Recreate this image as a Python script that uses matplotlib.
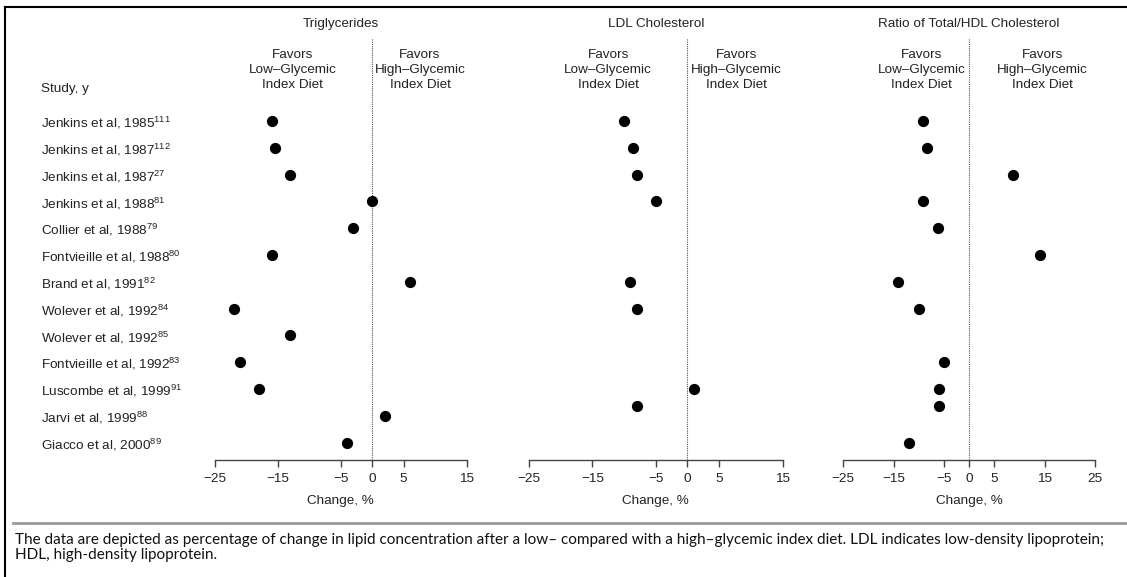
import matplotlib
matplotlib.use('Agg')
import matplotlib.pyplot as plt
import matplotlib.transforms as mtransforms
import numpy as np

# DADOS:
studies = ['Jenkins et al, 1985', 'Jenkins et al, 1987', 'Jenkins et al, 1987',
           'Jenkins et al, 1988', 'Collier et al, 1988', 'Fontvieille et al, 1988',
           'Brand et al, 1991', 'Wolever et al, 1992', 'Wolever et al, 1992',
           'Fontvieille et al, 1992', 'Luscombe et al, 1999', 'Jarvi et al, 1999',
           'Giacco et al, 2000']
refs = ['111', '112', '27', '81', '79', '80', '82', '84', '85', '83', '91', '88', '89']

nan = np.nan
tg_change = [-16, -15.5, -13, 0, -3, -16, 6, -22, -13, -21, -18, 2, -4]
ldl_change = [-10, -8.6, -8, -5, nan, nan, -9, -8, nan, nan, 1, -8, nan]
ratio_change = [-9.2, -8.3, 8.8, -9.2, -6.2, 14, -14.2, -10, nan, -5, -6, -6, -12]

titles = ['Triglycerides', 'LDL Cholesterol', 'Ratio of Total/HDL Cholesterol']
ticks_short = [-25, -15, -5, 0, 5, 15]
ticks_long = [-25, -15, -5, 0, 5, 15, 25]

caption = ('The data are depicted as percentage of change in lipid concentration after a low\u2013 '
           'compared with a high\u2013glycemic index diet. LDL indicates low-density lipoprotein;\n'
           'HDL, high-density lipoprotein.')

plt.rcParams['font.family'] = ['Liberation Sans', 'DejaVu Sans']
plt.rcParams['mathtext.default'] = 'regular'
plt.rcParams['axes.unicode_minus'] = True
txt = '#222222'

fig = plt.figure(figsize=(11.27, 5.77), dpi=100)

rows = np.arange(len(studies), dtype=float)
# Jarvi point sits a bit higher in the LDL and ratio panels of the source
rows_shift = rows.copy()
rows_shift[11] = 10.63

panels = [
    (tg_change, rows, 215, 466.5, (-25, 15), ticks_short, -12.7, 7.6),
    (ldl_change, rows_shift, 529, 782.5, (-25, 15), ticks_short, -12.5, 7.7),
    (ratio_change, rows_shift, 843.3, 1095, (-25, 25), ticks_long, -9.4, 14.5),
]

W, H = 1127, 577
ybot, ytop = 460, 38
axes = []
for (vals, ypos, x0, x1, xlim, ticks, low_x, high_x), title in zip(panels, titles):
    ax = fig.add_axes([x0 / W, (H - ybot) / H, (x1 - x0) / W, (ybot - ytop) / H])
    axes.append(ax)
    ax.scatter(vals, ypos, s=50, color='black', zorder=3, clip_on=False)
    ax.axvline(0, color='#555555', lw=0.8, ls=(0, (1, 1)))
    ax.set_xlim(*xlim)
    ax.set_ylim(12.65, -3.1)
    ax.set_xticks(ticks)
    ax.set_yticks([])
    for s in ['top', 'right', 'left']:
        ax.spines[s].set_visible(False)
    ax.spines['bottom'].set_color('#444444')
    ax.spines['bottom'].set_linewidth(1.0)
    ax.tick_params(axis='x', direction='out', length=5, width=1.0, color='#444444',
                   labelsize=9.7, labelcolor=txt, pad=4)
    ax.set_xlabel('Change, %', fontsize=9.7, color=txt, labelpad=7.5)
    ax.text(0.5, 1.032, title, transform=ax.transAxes, ha='center', va='center',
            fontsize=9.7, color=txt)
    ax.text(low_x, -1.9, 'Favors\nLow\u2013Glycemic\nIndex Diet', ha='center', va='center',
            fontsize=9.7, color=txt, linespacing=1.3)
    ax.text(high_x, -1.9, 'Favors\nHigh\u2013Glycemic\nIndex Diet', ha='center', va='center',
            fontsize=9.7, color=txt, linespacing=1.3)

trans = mtransforms.blended_transform_factory(fig.transFigure, axes[0].transData)
fig.text(41 / W, -1.2, 'Study, y', transform=trans, ha='left', va='center',
         fontsize=9.7, color=txt)
for r, (name, ref) in enumerate(zip(studies, refs)):
    fig.text(41 / W, r + 0.08, name + '$^{' + ref + '}$', transform=trans, ha='left',
             va='center', fontsize=9.7, color=txt)

# frame and caption
fig.add_artist(plt.Line2D([5 / W, 1], [(H - 7) / H, (H - 7) / H], color='black', lw=1.5))
fig.add_artist(plt.Line2D([5 / W, 5 / W], [0, (H - 7) / H], color='black', lw=1.5))
fig.add_artist(plt.Line2D([13 / W, 1], [(H - 522.5) / H, (H - 522.5) / H],
                          color='#999999', lw=2))
fig.text(15 / W, (H - 533) / H, caption, ha='left', va='top', fontsize=11.0,
         family='Lato', color='#111111', linespacing=1.08)

fig.savefig('out.png', dpi=100)
plt.close()
